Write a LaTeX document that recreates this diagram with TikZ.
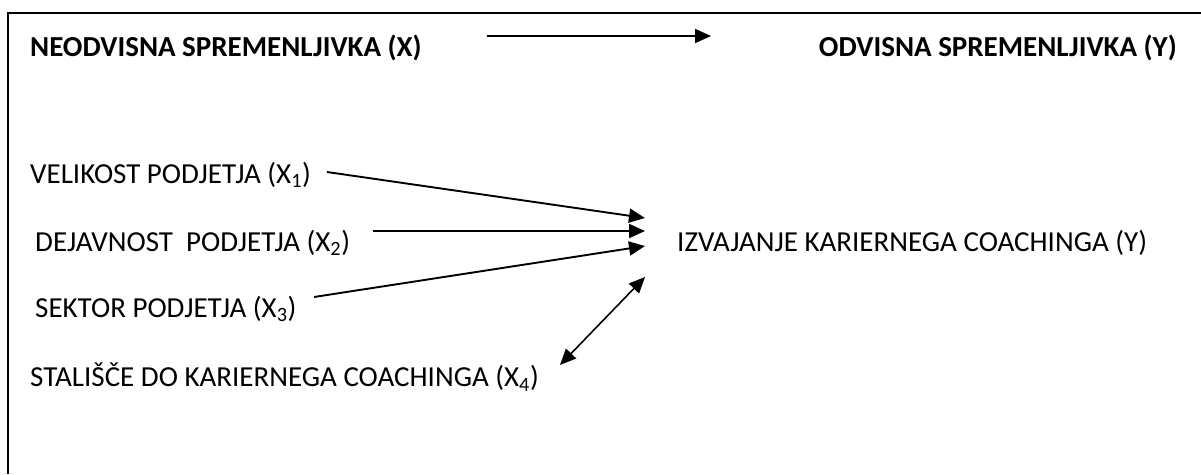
\documentclass[tikz,border=0pt]{standalone}
\usepackage{fontspec}
\setmainfont{Carlito}
\usetikzlibrary{arrows.meta}
\begin{document}
\begin{tikzpicture}[x=1pt,y=-1pt,
  lbl/.style={inner sep=0pt, font=\fontsize{29}{33}\selectfont},
  blbl/.style={lbl, font=\fontsize{29}{33}\selectfont\bfseries},
  arr/.style={line width=1.9pt, -{Triangle[length=16pt,width=14pt]}},
  darr/.style={line width=1.6pt, {Triangle[length=16pt,width=14pt]}-{Triangle[length=16pt,width=14pt]}},
  frame/.style={line width=1.8pt}]
\useasboundingbox (0,0) rectangle (1201,474);
\fill[white] (0,0) rectangle (1201,474);
\draw[frame] (8,474) -- (8,13) -- (1201,13);
\node[blbl, anchor=west] (xh) at (30,48) {NEODVISNA SPREMENLJIVKA (X)};
\node[blbl, anchor=east] (yh) at (1177,48) {ODVISNA SPREMENLJIVKA (Y)};
\coordinate (ta) at (487,36);
\coordinate (tb) at (711,36);
\draw[arr] (ta) -- (tb);
\node[lbl, anchor=west] (x1) at (30,175) {VELIKOST PODJETJA (X\textsubscript{1})};
\node[lbl, anchor=west] (x2) at (35,243) {DEJAVNOST\ \ PODJETJA (X\textsubscript{2})};
\node[lbl, anchor=west] (x3) at (35,309) {SEKTOR PODJETJA (X\textsubscript{3})};
\node[lbl, anchor=west] (x4) at (30,377) {STALIŠČE DO KARIERNEGA COACHINGA (X\textsubscript{4})};
\node[lbl, anchor=west] (y) at (677,243) {IZVAJANJE KARIERNEGA COACHINGA (Y)};
\coordinate (s1) at (327,172);
\coordinate (s2) at (373,231);
\coordinate (s3) at (314,297);
\coordinate (e1) at (645,218);
\coordinate (e2) at (645,231);
\coordinate (e3) at (645,246);
\coordinate (e4) at (645,277);
\coordinate (s4) at (560,365);
\draw[arr] (s1) -- (e1);
\draw[arr] (s2) -- (e2);
\draw[arr] (s3) -- (e3);
\draw[darr] (s4) -- (e4);
\end{tikzpicture}
\end{document}
